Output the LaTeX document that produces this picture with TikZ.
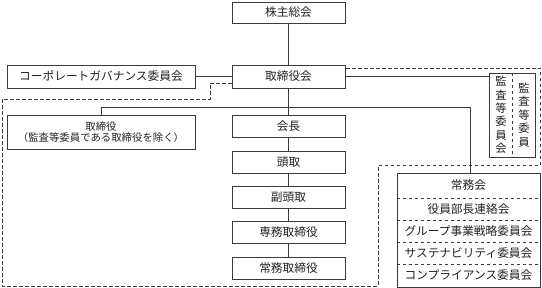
\documentclass[tikz,border=0pt]{standalone}
\usepackage{fontspec}
\setmainfont{Noto Sans CJK JP}
\usetikzlibrary{calc}
\definecolor{lc}{HTML}{3A3A3A}
\definecolor{tc}{HTML}{222222}
\begin{document}
\begin{tikzpicture}[x=1pt,y=-1pt,
  box/.style={draw=lc, line width=0.7pt, inner sep=0pt, minimum height=22pt, text=tc, font=\fontsize{11.7}{13}\selectfont},
  col/.style={box, minimum width=113pt},
  plain/.style={inner sep=0pt, text=tc, font=\fontsize{11.7}{13}\selectfont},
  vert/.style={inner sep=0pt, text=tc, align=center, font=\fontsize{11.3}{13.4}\selectfont},
  ln/.style={draw=lc, line width=0.7pt},
  dsh/.style={draw=lc, line width=0.7pt, dash pattern=on 3.5pt off 2.5pt}]
\useasboundingbox (0,0) rectangle (542,288);

\node[col, minimum height=21pt] (kabu) at (288.5,12.5) {株主総会};
\node[col, minimum height=23pt] (tb) at (288.5,76.5) {取締役会};
\node[box, minimum width=188pt, minimum height=23pt] (cg) at (101,76.5) {コーポレートガバナンス委員会};
\node[box, minimum width=188pt, minimum height=34pt, align=center, font=\fontsize{10.4}{11.5}\selectfont] (tori) at (101,132) {取締役\\（監査等委員である取締役を除く）};

\node[col] (kaicho) at (288.5,126) {会長};
\node[col] (tod) at (288.5,162) {頭取};
\node[col] (fuku) at (288.5,197.5) {副頭取};
\node[col] (senmu) at (288.5,232.5) {専務取締役};
\node[col] (jomu) at (288.5,268.5) {常務取締役};

% audit committee
\node[draw=lc, line width=0.7pt, minimum width=46pt, minimum height=84pt, inner sep=0pt] (kansa) at (512,115) {};
\node[vert] (kl) at (501,115) {監\\査\\等\\委\\員\\会};
\node[vert] (kr) at (524,115) {監\\査\\等\\委\\員};
\draw[dsh] (kansa.north) -- (kansa.south);

% executive committees group
\node[draw=lc, line width=0.7pt, minimum width=143pt, minimum height=114pt, inner sep=0pt] (jg) at (468.5,230) {};
\node[plain] (j1) at (468.5,185.5) {常務会};
\node[plain] (j2) at (468.5,209) {役員部長連絡会};
\node[plain] (j3) at (468.5,231) {グループ事業戦略委員会};
\node[plain] (j4) at (468.5,253) {サステナビリティ委員会};
\node[plain] (j5) at (468.5,275.5) {コンプライアンス委員会};
\draw[dsh] (jg.west |- 0,198) -- (jg.east |- 0,198);
\draw[dsh] (jg.west |- 0,220) -- (jg.east |- 0,220);
\draw[dsh] (jg.west |- 0,242) -- (jg.east |- 0,242);
\draw[dsh] (jg.west |- 0,264) -- (jg.east |- 0,264);

% connectors
\draw[ln] (kabu) -- (tb);
\draw[ln] (cg) -- (tb);
\draw[ln] (tb.east) -- (tb.east -| kansa.west);
\draw[ln] (tb) -- (kaicho);
\draw[ln] (kaicho) -- (tod);
\draw[ln] (tod) -- (fuku);
\draw[ln] (fuku) -- (senmu);
\draw[ln] (senmu) -- (jomu);
\coordinate (hl) at (101,107);
\coordinate (hr) at (470,107);
\draw[ln] (tori.north) -- (hl) -- (hr) -- (hr |- jg.north);

% dashed boundary of the executive area
\draw[dsh] (tb.west |- 0,83) -- (210,83) -- (210,99) -- (2,99) -- (2,286) -- (378,286) -- (378,165.5) -- (540.5,165.5) -- (540.5,68) -- (tb.east |- 0,68);
\end{tikzpicture}
\end{document}
